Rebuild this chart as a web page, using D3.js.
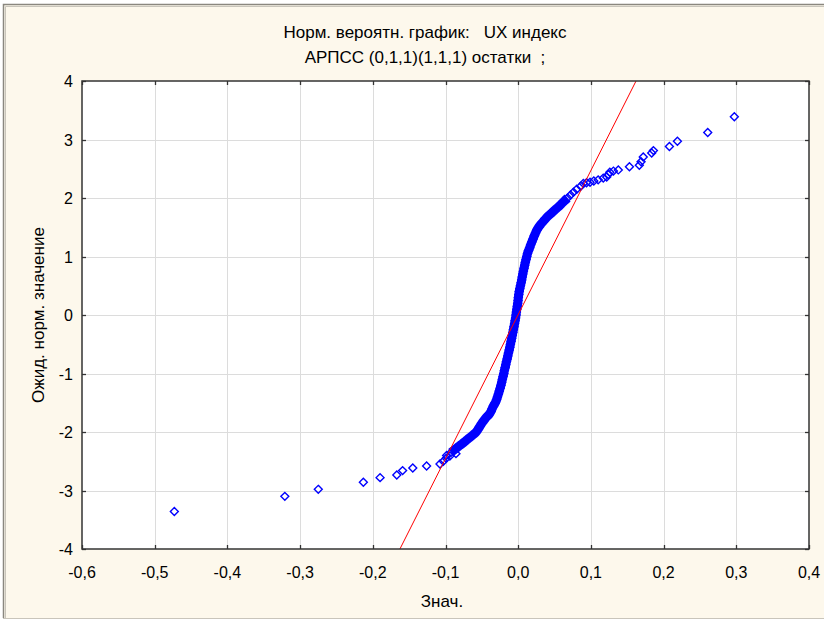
<!DOCTYPE html>
<html>
<head>
<meta charset="utf-8">
<script src="https://cdn.jsdelivr.net/npm/d3@7"></script>
<style>
  body { margin: 0; background: #fff; }
  text { font-family: "Liberation Sans", Arial, sans-serif; fill: #000; white-space: pre; }
</style>
</head>
<body>
<div id="main"></div>
<script>
// residuals (x) and expected normal values (y)
const lowTailX = [-0.473, -0.321, -0.275, -0.213, -0.190, -0.167, -0.159, -0.145, -0.126, -0.1076, -0.103, -0.099, -0.094, -0.0856];
const lowTailY = [-3.36, -3.10, -2.98, -2.86, -2.78, -2.735, -2.66, -2.615, -2.58, -2.547, -2.50, -2.45, -2.41, -2.37];

const bodyX = [-0.0985, -0.0925, -0.0873, -0.0823, -0.0770, -0.0720, -0.0670, -0.0622, -0.0578, -0.0550,
  -0.0525, -0.0500, -0.0470, -0.0440, -0.0400, -0.0375, -0.0358, -0.0338, -0.0315, -0.0298,
  -0.0285, -0.0272, -0.0260, -0.0248, -0.0237, -0.0227, -0.0218, -0.0208, -0.0198, -0.0190,
  -0.0180, -0.0171, -0.0162, -0.0152, -0.0143, -0.0134, -0.0124, -0.0115, -0.0107, -0.0098,
  -0.0090, -0.0082, -0.0074, -0.0066, -0.0058, -0.0050, -0.0043, -0.0036, -0.0030, -0.0025,
  -0.0019, -0.0013, -0.0007, -0.0002, 0.0002, 0.0008, 0.0014, 0.0022, 0.0031, 0.0040,
  0.0048, 0.0055, 0.0063, 0.0071, 0.0080, 0.0089, 0.0098, 0.0108, 0.0118, 0.0128,
  0.0142, 0.0158, 0.0172, 0.0188, 0.0205, 0.0220, 0.0238, 0.0256, 0.0280, 0.0310,
  0.0345, 0.0380, 0.0420, 0.0465, 0.0510, 0.0555, 0.0595, 0.0635, 0.0680, 0.0720,
  0.0760, 0.0805, 0.0860];
const bodyY = [-2.40, -2.35, -2.30, -2.25, -2.20, -2.15, -2.10, -2.05, -2.00, -1.95,
  -1.90, -1.85, -1.80, -1.75, -1.70, -1.65, -1.60, -1.55, -1.50, -1.45,
  -1.40, -1.35, -1.30, -1.25, -1.20, -1.15, -1.10, -1.05, -1.00, -0.95,
  -0.90, -0.85, -0.80, -0.75, -0.70, -0.65, -0.60, -0.55, -0.50, -0.45,
  -0.40, -0.35, -0.30, -0.25, -0.20, -0.15, -0.10, -0.05, 0.00, 0.05,
  0.10, 0.15, 0.20, 0.25, 0.30, 0.35, 0.40, 0.45, 0.50, 0.55,
  0.60, 0.65, 0.70, 0.75, 0.80, 0.85, 0.90, 0.95, 1.00, 1.05,
  1.10, 1.15, 1.20, 1.25, 1.30, 1.35, 1.40, 1.45, 1.50, 1.55,
  1.60, 1.65, 1.70, 1.75, 1.80, 1.85, 1.90, 1.95, 2.00, 2.05,
  2.10, 2.15, 2.20];

const highTailX = [0.0896, 0.094, 0.0988, 0.104, 0.110, 0.117, 0.1217, 0.124, 0.126, 0.131, 0.1377,
  0.153, 0.1666, 0.169, 0.172, 0.1836, 0.186, 0.208, 0.219, 0.2607, 0.2973];
const highTailY = [2.25, 2.26, 2.27, 2.29, 2.31, 2.34, 2.36, 2.40, 2.44, 2.46, 2.48,
  2.535, 2.56, 2.62, 2.70, 2.77, 2.81, 2.88, 2.97, 3.12, 3.39];

// fitted normal line
const fitMean = -0.0003;
const fitSd = 0.0406;

const xTicks = [-0.6, -0.5, -0.4, -0.3, -0.2, -0.1, 0.0, 0.1, 0.2, 0.3, 0.4];
const yTicks = [-4, -3, -2, -1, 0, 1, 2, 3, 4];

const titleLines = ["Норм. вероятн. график:   UX индекс", "АРПСС (0,1,1)(1,1,1) остатки  ;"];
const xTitle = "Знач.";
const yTitle = "Ожид. норм. значение";

const width = 824, height = 619;
const plot = { left: 82, right: 809, top: 81, bottom: 549 };

const svg = d3.select('#main').append('svg')
    .attr('width', width).attr('height', height);

// window frame
svg.append('rect').attr('x', 0).attr('y', 0).attr('width', width).attr('height', height).attr('fill', '#fff');
svg.append('rect').attr('x', 3).attr('y', 4).attr('width', width - 3).attr('height', height - 5)
    .attr('fill', '#fdf8ec');
svg.append('path').attr('d', `M3.5,${height - 1}V4.5H${width}`)
    .attr('fill', 'none').attr('stroke', '#8a877f').attr('stroke-width', 1.5);
svg.append('path').attr('d', `M5.5,${height - 1}V6.5H${width}`)
    .attr('fill', 'none').attr('stroke', '#c9c5bb').attr('stroke-width', 1);
svg.append('line').attr('x1', 3).attr('x2', width).attr('y1', height - 0.5).attr('y2', height - 0.5)
    .attr('stroke', '#c9c5bb');

let x = d3.scaleLinear().domain([-0.6, 0.4]).range([plot.left, plot.right]);
let y = d3.scaleLinear().domain([-4, 4]).range([plot.bottom, plot.top]);

svg.append('rect')
    .attr('x', plot.left).attr('y', plot.top)
    .attr('width', plot.right - plot.left).attr('height', plot.bottom - plot.top)
    .attr('fill', '#fff');

// grid
let grid = svg.append('g').attr('stroke', '#dcdcdc').attr('stroke-width', 1);
grid.selectAll('line.v').data(xTicks.slice(1, -1)).enter().append('line')
    .attr('x1', d => Math.round(x(d)) + 0.5).attr('x2', d => Math.round(x(d)) + 0.5)
    .attr('y1', plot.top).attr('y2', plot.bottom);
grid.selectAll('line.h').data(yTicks.slice(1, -1)).enter().append('line')
    .attr('y1', d => Math.round(y(d)) + 0.5).attr('y2', d => Math.round(y(d)) + 0.5)
    .attr('x1', plot.left).attr('x2', plot.right);

svg.append('defs').append('clipPath').attr('id', 'clip')
    .append('rect').attr('x', plot.left).attr('y', plot.top)
    .attr('width', plot.right - plot.left).attr('height', plot.bottom - plot.top);

// points
let points = [];
lowTailX.forEach((v, i) => points.push([v, lowTailY[i]]));
bodyX.forEach((v, i) => points.push([v, bodyY[i]]));
highTailX.forEach((v, i) => points.push([v, highTailY[i]]));

// the densest part of the sample: overlapping markers merge into a solid band
let body = bodyX.map((v, i) => [v, bodyY[i]]).filter(d => d[1] >= -2.35 && d[1] <= 2.0);
let band = d3.line().x(d => x(d[0])).y(d => y(d[1])).curve(d3.curveMonotoneY);
svg.append('path').datum(body)
    .attr('d', band)
    .attr('fill', 'none').attr('stroke', '#0000ff')
    .attr('stroke-width', 9).attr('stroke-linejoin', 'round');

let diamond = d3.symbol().type(d3.symbolDiamond2).size(40);
svg.append('g').attr('clip-path', 'url(#clip)')
    .selectAll('path').data(points).enter().append('path')
    .attr('d', diamond)
    .attr('transform', d => `translate(${x(d[0])},${y(d[1])})`)
    .attr('fill', 'none').attr('stroke', '#0000ff').attr('stroke-width', 1.4);

// red fitted line, on top of the points
svg.append('line')
    .attr('clip-path', 'url(#clip)')
    .attr('x1', x(fitMean + fitSd * -4)).attr('y1', y(-4))
    .attr('x2', x(fitMean + fitSd * 4)).attr('y2', y(4))
    .attr('stroke', '#ff0000').attr('stroke-width', 1);

// frame + inward ticks
svg.append('rect')
    .attr('x', plot.left).attr('y', plot.top)
    .attr('width', plot.right - plot.left).attr('height', plot.bottom - plot.top)
    .attr('fill', 'none').attr('stroke', '#333').attr('stroke-width', 1.5);

let ticks = svg.append('g').attr('stroke', '#333').attr('stroke-width', 1.3);
xTicks.forEach(t => {
    let px = Math.round(x(t)) + 0.5;
    ticks.append('line').attr('x1', px).attr('x2', px).attr('y1', plot.bottom).attr('y2', plot.bottom - 4);
    ticks.append('line').attr('x1', px).attr('x2', px).attr('y1', plot.top).attr('y2', plot.top + 4);
});
yTicks.forEach(t => {
    let py = Math.round(y(t)) + 0.5;
    ticks.append('line').attr('y1', py).attr('y2', py).attr('x1', plot.left).attr('x2', plot.left + 4);
    ticks.append('line').attr('y1', py).attr('y2', py).attr('x1', plot.right).attr('x2', plot.right - 4);
});

let fmt = d => d3.format('.1f')(d).replace('.', ',').replace('−', '-');
svg.append('g').selectAll('text').data(xTicks).enter().append('text')
    .attr('x', d => x(d)).attr('y', plot.bottom + 29)
    .attr('text-anchor', 'middle').attr('font-size', 16)
    .text(fmt);
svg.append('g').selectAll('text').data(yTicks).enter().append('text')
    .attr('x', plot.left - 9).attr('y', d => y(d) + 6)
    .attr('text-anchor', 'end').attr('font-size', 16)
    .text(d => String(d).replace('−', '-'));

// titles
svg.append('g').selectAll('text').data(titleLines).enter().append('text')
    .attr('x', 425).attr('y', (d, i) => 38 + i * 25)
    .attr('text-anchor', 'middle').attr('font-size', 17)
    .text(d => d);

svg.append('text').attr('x', 442).attr('y', 607)
    .attr('text-anchor', 'middle').attr('font-size', 17).text(xTitle);
svg.append('text')
    .attr('transform', `translate(44,${(plot.top + plot.bottom) / 2}) rotate(-90)`)
    .attr('text-anchor', 'middle').attr('font-size', 17).text(yTitle);
</script>
</body>
</html>
